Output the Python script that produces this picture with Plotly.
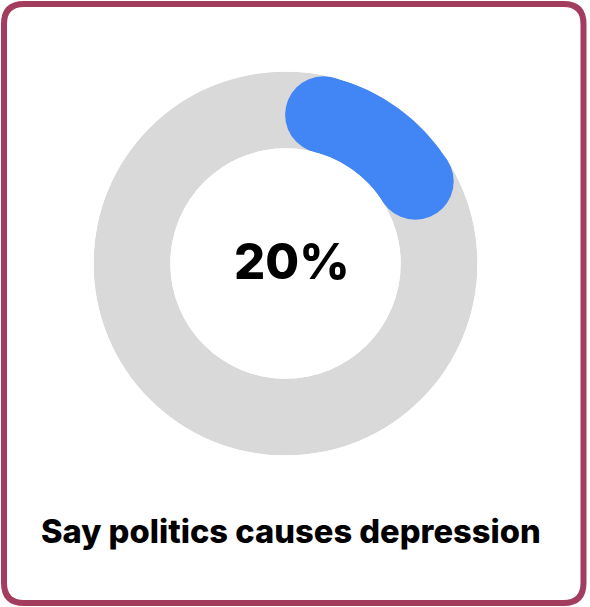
import plotly.graph_objects as go
import math

# ---- data ----
label = "Say politics causes depression"
value_pct = [20]
remaining_pct = [80]

W, H = 590, 607
BLUE = "#4285F4"
GREY = "#D9D9D9"
BORDER = "#A33D5E"

# donut geometry (pixels)
cx, cy, R = 285.5, 263.5, 192
hole = 0.6
ring_px = R * (1 - hole)

dom_x = [(cx - R) / W, (cx + R) / W]
dom_y = [1 - (cy + R) / H, 1 - (cy - R) / H]

total_deg = value_pct[0] / 100 * 360
cap_deg = math.degrees((1 - hole) / (1 + hole))
bar_w = total_deg - 2 * cap_deg

fig = go.Figure()
fig.add_trace(go.Barpolar(r=[1], theta=[180], width=[360], base=[0],
                          marker=dict(color=GREY, line=dict(width=0)),
                          hoverinfo="skip", showlegend=False))
fig.add_trace(go.Barpolar(r=[1], theta=[total_deg / 2], width=[bar_w], base=[0],
                          marker=dict(color=BLUE, line=dict(width=0)),
                          showlegend=False))
fig.add_trace(go.Scatterpolar(r=[0.5, 0.5], theta=[cap_deg, total_deg - cap_deg],
                              mode="markers",
                              marker=dict(color=BLUE, size=ring_px, line=dict(width=0)),
                              showlegend=False, hoverinfo="skip"))

fig.update_layout(
    width=W, height=H,
    margin=dict(l=0, r=0, t=0, b=0),
    paper_bgcolor="white",
    polar=dict(
        domain=dict(x=dom_x, y=dom_y),
        hole=hole,
        bgcolor="rgba(0,0,0,0)",
        radialaxis=dict(range=[0, 1], visible=False, showgrid=False),
        angularaxis=dict(rotation=90, direction="clockwise", visible=False,
                         showgrid=False, showline=False, showticklabels=False, ticks=""),
        barmode="overlay",
    ),
)

fig.add_annotation(x=292 / W, y=1 - 262 / H, xref="paper", yref="paper",
                   text=f"{value_pct[0]}%", showarrow=False,
                   font=dict(family="Inter", size=49, color="black", weight=800),
                   xanchor="center", yanchor="middle")
fig.add_annotation(x=291 / W, y=1 - 531 / H, xref="paper", yref="paper",
                   text=label, showarrow=False,
                   font=dict(family="Inter", size=32.7, color="black", weight=800),
                   xanchor="center", yanchor="middle")

# rounded border
x0, y0, x1, y1, rr = 4, 4, 583.5, 603, 20
def P(x, y):
    return f"{x / W:.5f},{1 - y / H:.5f}"
path = (f"M {P(x0 + rr, y0)} L {P(x1 - rr, y0)} Q {P(x1, y0)} {P(x1, y0 + rr)} "
        f"L {P(x1, y1 - rr)} Q {P(x1, y1)} {P(x1 - rr, y1)} "
        f"L {P(x0 + rr, y1)} Q {P(x0, y1)} {P(x0, y1 - rr)} "
        f"L {P(x0, y0 + rr)} Q {P(x0, y0)} {P(x0 + rr, y0)} Z")
fig.add_shape(type="path", path=path, xref="paper", yref="paper",
              line=dict(color=BORDER, width=6), fillcolor="rgba(0,0,0,0)")

fig.write_html("out.html")
